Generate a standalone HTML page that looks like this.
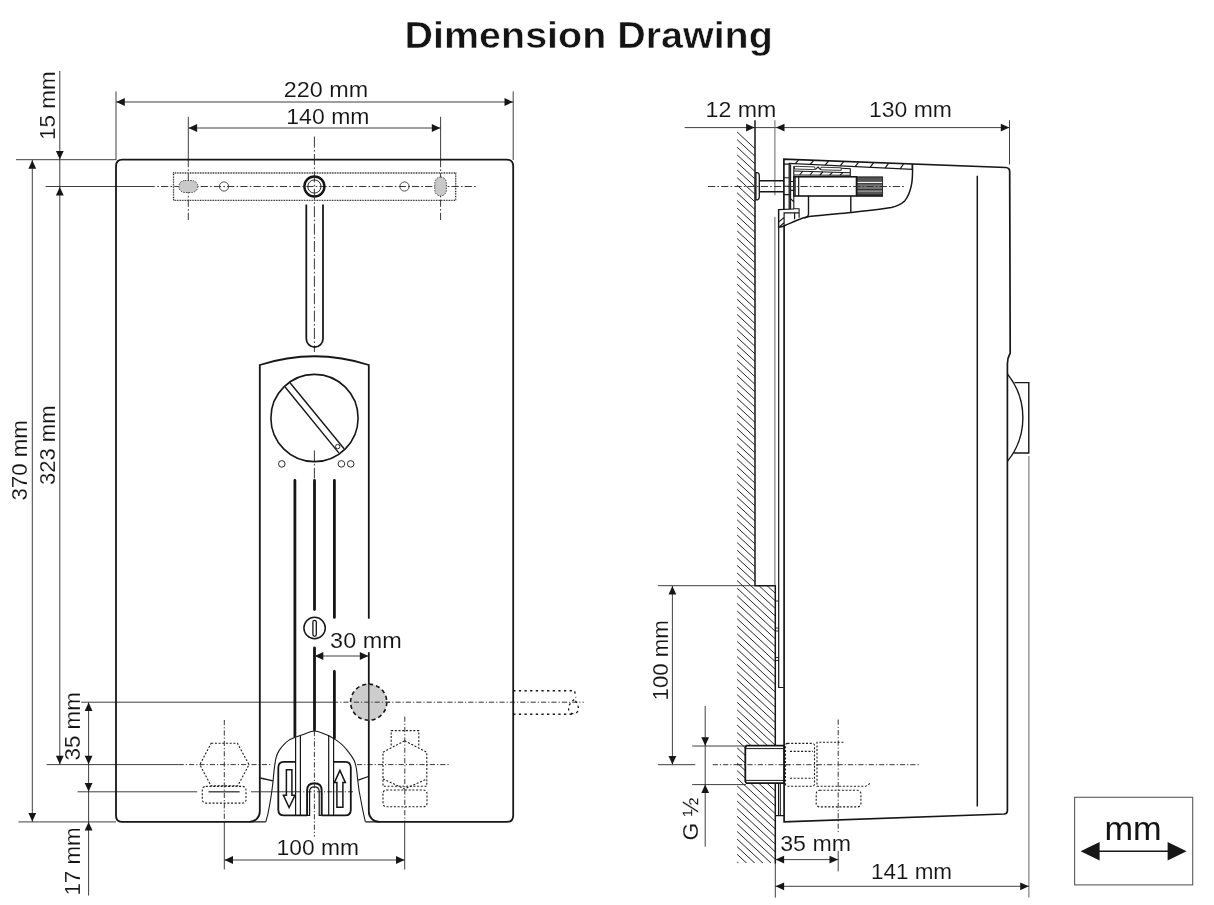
<!DOCTYPE html>
<html><head><meta charset="utf-8"><title>Dimension Drawing</title>
<style>
html,body{margin:0;padding:0;background:#fff;}
body{width:1214px;height:905px;overflow:hidden;font-family:"Liberation Sans",sans-serif;}
svg{display:block;filter:grayscale(1);}
svg text{font-family:"Liberation Sans",sans-serif;fill:#141414;}
</style></head><body>
<svg width="1214" height="905" viewBox="0 0 1214 905">
<rect width="1214" height="905" fill="#fff"/>

<text x="404.6" y="47.5" font-size="37.2" font-weight="bold" stroke="#fff" stroke-width="0.5" stroke-linejoin="round" textLength="368.2" lengthAdjust="spacingAndGlyphs">Dimension Drawing</text>
<g id="front" fill="none" stroke-linecap="butt">
<line x1="16" y1="159.7" x2="116" y2="159.7" stroke="#2a2a2a" stroke-width="0.9" />
<line x1="45.7" y1="186.5" x2="154.7" y2="186.5" stroke="#2a2a2a" stroke-width="0.9" />
<line x1="157.3" y1="186.5" x2="477.4" y2="186.5" stroke="#2e2e2e" stroke-width="0.95" stroke-dasharray="1.6 2.2 7.2 2.2"/>
<line x1="59.8" y1="71" x2="59.8" y2="764.3" stroke="#2a2a2a" stroke-width="0.9" />
<line x1="32.3" y1="160" x2="32.3" y2="821.9" stroke="#2a2a2a" stroke-width="0.9" />
<line x1="18.4" y1="821.9" x2="116" y2="821.9" stroke="#2a2a2a" stroke-width="0.9" />
<line x1="116" y1="91.4" x2="116" y2="160" stroke="#2a2a2a" stroke-width="0.9" />
<line x1="513.2" y1="91.4" x2="513.2" y2="160" stroke="#2a2a2a" stroke-width="0.9" />
<line x1="116" y1="102" x2="513.2" y2="102" stroke="#2a2a2a" stroke-width="0.9" />
<line x1="188.3" y1="116.8" x2="188.3" y2="160" stroke="#2a2a2a" stroke-width="0.9" />
<line x1="188.3" y1="160" x2="188.3" y2="222" stroke="#2e2e2e" stroke-width="0.95" stroke-dasharray="7.2 2.2 1.6 2.2"/>
<line x1="440.6" y1="116.8" x2="440.6" y2="160" stroke="#2a2a2a" stroke-width="0.9" />
<line x1="440.6" y1="160" x2="440.6" y2="222" stroke="#2e2e2e" stroke-width="0.95" stroke-dasharray="7.2 2.2 1.6 2.2"/>
<line x1="188.3" y1="128" x2="440.6" y2="128" stroke="#2a2a2a" stroke-width="0.9" />
<polygon points="116.3,102.0 124.8,98.1 124.8,105.9" fill="#161616"/>
<polygon points="513.0,102.0 504.5,98.1 504.5,105.9" fill="#161616"/>
<polygon points="188.6,128.0 197.1,124.1 197.1,131.9" fill="#161616"/>
<polygon points="440.3,128.0 431.8,124.1 431.8,131.9" fill="#161616"/>
<polygon points="59.8,159.4 55.9,150.9 63.7,150.9" fill="#161616"/>
<polygon points="59.8,186.9 55.9,195.4 63.7,195.4" fill="#161616"/>
<polygon points="32.3,160.2 28.4,168.7 36.2,168.7" fill="#161616"/>
<polygon points="32.3,821.6 28.4,813.1 36.2,813.1" fill="#161616"/>
<polygon points="59.8,764.2 55.9,755.7 63.7,755.7" fill="#161616"/>
<line x1="88.6" y1="702.3" x2="88.6" y2="895.6" stroke="#2a2a2a" stroke-width="0.9" />
<line x1="81.2" y1="702.2" x2="333" y2="702.2" stroke="#2a2a2a" stroke-width="0.9" />
<line x1="333" y1="702.2" x2="583.8" y2="702.2" stroke="#2e2e2e" stroke-width="0.95" stroke-dasharray="5.2 2 1.2 2"/>
<line x1="46.6" y1="764.6" x2="178.6" y2="764.6" stroke="#2a2a2a" stroke-width="0.9" />
<line x1="178.6" y1="764.6" x2="272" y2="764.6" stroke="#2e2e2e" stroke-width="0.95" stroke-dasharray="5.2 2 1.2 2"/>
<line x1="357" y1="764.6" x2="449.5" y2="764.6" stroke="#2e2e2e" stroke-width="0.95" stroke-dasharray="5.2 2 1.2 2"/>
<line x1="77.5" y1="791.8" x2="197.2" y2="791.8" stroke="#2a2a2a" stroke-width="0.9" />
<polygon points="88.6,702.5 84.7,711.0 92.5,711.0" fill="#161616"/>
<polygon points="88.6,764.3 84.7,755.8 92.5,755.8" fill="#161616"/>
<polygon points="88.6,791.6 84.7,783.1 92.5,783.1" fill="#161616"/>
<polygon points="88.6,822.1 84.7,830.6 92.5,830.6" fill="#161616"/>
<line x1="224.3" y1="822" x2="224.3" y2="869.5" stroke="#2a2a2a" stroke-width="0.9" />
<line x1="404.7" y1="822" x2="404.7" y2="869.5" stroke="#2a2a2a" stroke-width="0.9" />
<line x1="224.3" y1="860" x2="404.7" y2="860" stroke="#2a2a2a" stroke-width="0.9" />
<polygon points="224.5,860.0 233.0,856.1 233.0,863.9" fill="#161616"/>
<polygon points="404.5,860.0 396.0,856.1 396.0,863.9" fill="#161616"/>
<line x1="314.4" y1="656" x2="368.8" y2="656" stroke="#2a2a2a" stroke-width="0.9" />
<polygon points="314.8,656.0 323.3,652.0 323.3,660.0" fill="#161616"/>
<polygon points="368.3,656.0 359.8,652.0 359.8,660.0" fill="#161616"/>
<path d="M116 166.1 Q116 159.6 122.5 159.6 L506.7 159.6 Q513.2 159.6 513.2 166.1 L513.2 815.4 Q513.2 821.9 506.7 821.9 L379.2 821.9 A10.4 10.4 0 0 1 368.8 811.5 L368.8 365 Q314.5 347.5 259.8 365 L259.8 811.5 A10.4 10.4 0 0 1 249.4 821.9 L122.5 821.9 Q116 821.9 116 815.4 Z" stroke="#161616" stroke-width="1.8"/>
<path d="M249.4 821.9 L265.8 821.9 M365.4 821.9 L379.2 821.9" stroke="#161616" stroke-width="1.2"/>
<rect x="173.5" y="173" width="282.2" height="27.3" stroke="#222" stroke-width="1.3" stroke-dasharray="0.9 0.75"/>
<rect x="178.8" y="180.5" width="19" height="12" rx="6" fill="#c9c9cd" stroke="#333" stroke-width="0.9" stroke-dasharray="1.5 1.2"/>
<rect x="434.8" y="177.1" width="11.6" height="18.8" rx="5.8" fill="#c9c9cd" stroke="#333" stroke-width="0.9" stroke-dasharray="1.5 1.2"/>
<circle cx="224" cy="186.5" r="4.6" stroke="#333" stroke-width="0.85"/>
<circle cx="404.5" cy="186.5" r="4.6" stroke="#333" stroke-width="0.85"/>
<circle cx="314.4" cy="186.5" r="10" stroke="#161616" stroke-width="2.4"/>
<circle cx="314.4" cy="186.5" r="6.6" stroke="#161616" stroke-width="0.9"/>
<line x1="314.4" y1="136.6" x2="314.4" y2="352" stroke="#2e2e2e" stroke-width="0.95" stroke-dasharray="11 2.4 1.6 2.4"/>
<line x1="314.4" y1="450.4" x2="314.4" y2="478.5" stroke="#2e2e2e" stroke-width="0.95" stroke-dasharray="11 2.4 1.6 2.4"/>
<path d="M306.3 204.5 L306.3 338.8 A8.35 8.35 0 0 0 323 338.8 L323 204.5" stroke="#161616" stroke-width="1.75"/>
<circle cx="314.5" cy="418" r="43.6" stroke="#161616" stroke-width="1.6"/>
<path d="M285.1 387 L338.8 452.9 M290.2 383 L344.1 448.7" stroke="#161616" stroke-width="1.4"/>
<circle cx="337.7" cy="446.6" r="2.2" stroke="#161616" stroke-width="0.9"/>
<circle cx="281.8" cy="463.9" r="3.3" stroke="#161616" stroke-width="0.9"/>
<circle cx="341.4" cy="463.9" r="3.3" stroke="#161616" stroke-width="0.9"/>
<circle cx="350.7" cy="463.9" r="3.3" stroke="#161616" stroke-width="0.9"/>
<path d="M294.9 480.5 L294.9 737 M334.4 480.5 L334.4 617.4 M334.4 671.4 L334.4 738" stroke="#161616" stroke-width="2.8" stroke-linecap="round"/>
<path d="M314.5 480.5 L314.5 609.6 M314.5 648 L314.5 730" stroke="#161616" stroke-width="2.8" stroke-linecap="round"/>
<circle cx="314.6" cy="628" r="10.7" stroke="#161616" stroke-width="1.5" fill="#fff"/>
<rect x="312.9" y="620.3" width="3.4" height="16" rx="1.7" stroke="#161616" stroke-width="1.3"/>
<circle cx="368.7" cy="702.2" r="18.1" fill="#cdcdd1" stroke="#161616" stroke-width="1.6" stroke-dasharray="4 3.1"/>
<line x1="368.8" y1="684" x2="368.8" y2="721" stroke="#3a3a3a" stroke-width="1.5" />
<line x1="353.8" y1="702.2" x2="390" y2="702.2" stroke="#2e2e2e" stroke-width="0.95" stroke-dasharray="5.2 2 1.2 2"/>
<path d="M513.2 690.7 L574.5 690.7 L575.9 697.5 M513.2 714.3 L572 714.3" stroke="#161616" stroke-width="1.4" stroke-dasharray="2.3 3.34"/>
<path d="M574.2 699.5 C571 702 568.6 705 568.6 708.8 A4.9 4.9 0 0 0 578.4 708.8 C578.4 705 576.5 702 574.2 699.5 Z" stroke="#161616" stroke-width="1.3" stroke-dasharray="2.3 3.1"/>
<g stroke="#1c1c1c" stroke-width="1.1" stroke-dasharray="2 1.7">
<path d="M211.2 743.2 L237.4 743.2 L249 764.6 L237.8 785.8 L211 785.8 L199.9 764.6 Z"/>
<rect x="202.3" y="786.4" width="43.7" height="16.7" rx="3.5"/>
<path d="M391.2 745.5 L391.2 730.6 L418.8 730.6 L418.8 745.5"/>
<path d="M404.7 740.8 L426.8 752.2 L426.8 786.3 L383 786.3 L383 752.2 Z"/>
<path d="M383 779 L404.7 788.9 L426.8 779"/>
<rect x="383" y="790" width="44" height="16.8" rx="3.5"/>
</g>
<line x1="208.5" y1="791.8" x2="239.6" y2="791.8" stroke="#333" stroke-width="1.3" />
<line x1="224.3" y1="720" x2="224.3" y2="822" stroke="#2e2e2e" stroke-width="0.95" stroke-dasharray="5.2 2 1.2 2"/>
<line x1="404.8" y1="716.5" x2="404.8" y2="822" stroke="#2e2e2e" stroke-width="0.95" stroke-dasharray="5.2 2 1.2 2"/>
<path d="M265.8 821.9 C268 815 269 809 269.6 805 C271.5 795 272.4 787 273.1 780.7 C274 770 274.8 763 276.1 757.7 C277 754 278 752.3 279.2 750.4 C282.5 745.5 286 742 290.1 739.4 C293.5 737.6 297 736.3 301 735.2 C306 733.8 310.5 731 314.4 731 C318.5 731 323 733.8 327.8 735.2 C330.5 736.3 332.5 737.6 335 739.4 C340 742.5 344 746 347.2 750.4 C350.5 754.5 352.8 757.5 354.5 761.3 C356.3 766 357 771 357.5 778.3 C358.4 788 360 797 361.8 805 C362.8 811 364 816 365.4 821.9" stroke="#161616" stroke-width="1.1" fill="#fff"/>
<path d="M260.3 778 L273 780.8 M368.4 776.5 L358.2 780.2" stroke="#161616" stroke-width="1.3"/>
<line x1="251" y1="791.8" x2="296" y2="791.8" stroke="#2a2a2a" stroke-width="0.9" />
<line x1="296" y1="791.8" x2="353" y2="791.8" stroke="#2e2e2e" stroke-width="0.95" stroke-dasharray="5.2 2 1.2 2"/>
<path d="M295.6 737.5 L295.6 815.4 M300.4 735 L300.4 815.4 M328.7 735 L328.7 815.4 M333.6 737.5 L333.6 815.4" stroke="#161616" stroke-width="1.2"/>
<path d="M295.6 761.9 L284 761.9 Q278.3 761.9 278.3 767.6 L278.3 809.7 Q278.3 815.4 284 815.4 L307.1 815.4 M321.7 815.4 L345.1 815.4 Q350.8 815.4 350.8 809.7 L350.8 767.6 Q350.8 761.9 345.1 761.9 L333.6 761.9" stroke="#161616" stroke-width="1.8"/>
<path d="M307.1 815.4 L307.1 790.5 Q307.1 783.2 314.4 783.2 Q321.7 783.2 321.7 790.5 L321.7 815.4" stroke="#161616" stroke-width="1.9"/>
<path d="M307.1 815.4 L309.6 815.4 L309.6 791.6 Q309.6 786.8 314.4 786.8 Q319.2 786.8 319.2 791.6 L319.2 815.4 L321.7 815.4" stroke="#161616" stroke-width="1.2"/>
<path d="M286.4 769.8 L291.9 769.8 L291.9 795.3 L295 795.3 L289.1 807.5 L283.4 795.3 L286.4 795.3 Z" stroke="#161616" stroke-width="1.5" stroke-linejoin="miter"/>
<path d="M339.9 770.4 L345.4 782.6 L342.9 782.6 L342.9 807.2 L336.9 807.2 L336.9 782.6 L334.4 782.6 Z" stroke="#161616" stroke-width="1.5" stroke-linejoin="miter"/>
<line x1="314.4" y1="731" x2="314.4" y2="836.7" stroke="#2e2e2e" stroke-width="0.95" stroke-dasharray="5.2 2 1.2 2"/>
</g>
<rect x="366" y="618.7" width="6" height="33.5" fill="#fff"/>
<g id="side" fill="none">
<clipPath id="wc"><path d="M736.5 131.6 L755 131.6 L755 585.5 L775.3 585.5 L775.3 863 L736.5 863 Z"/></clipPath>
<g clip-path="url(#wc)" stroke="#262626" stroke-width="1.0">
<line x1="737.1" y1="132.00" x2="777.1" y2="169.20"/>
<line x1="737.1" y1="139.60" x2="777.1" y2="176.80"/>
<line x1="737.1" y1="147.21" x2="777.1" y2="184.41"/>
<line x1="737.1" y1="154.81" x2="777.1" y2="192.01"/>
<line x1="737.1" y1="162.41" x2="777.1" y2="199.61"/>
<line x1="737.1" y1="170.02" x2="777.1" y2="207.22"/>
<line x1="737.1" y1="177.62" x2="777.1" y2="214.82"/>
<line x1="737.1" y1="185.22" x2="777.1" y2="222.42"/>
<line x1="737.1" y1="192.82" x2="777.1" y2="230.02"/>
<line x1="737.1" y1="200.43" x2="777.1" y2="237.63"/>
<line x1="737.1" y1="208.03" x2="777.1" y2="245.23"/>
<line x1="737.1" y1="215.63" x2="777.1" y2="252.83"/>
<line x1="737.1" y1="223.24" x2="777.1" y2="260.44"/>
<line x1="737.1" y1="230.84" x2="777.1" y2="268.04"/>
<line x1="737.1" y1="238.44" x2="777.1" y2="275.64"/>
<line x1="737.1" y1="246.05" x2="777.1" y2="283.25"/>
<line x1="737.1" y1="253.65" x2="777.1" y2="290.85"/>
<line x1="737.1" y1="261.25" x2="777.1" y2="298.45"/>
<line x1="737.1" y1="268.85" x2="777.1" y2="306.05"/>
<line x1="737.1" y1="276.46" x2="777.1" y2="313.66"/>
<line x1="737.1" y1="284.06" x2="777.1" y2="321.26"/>
<line x1="737.1" y1="291.66" x2="777.1" y2="328.86"/>
<line x1="737.1" y1="299.27" x2="777.1" y2="336.47"/>
<line x1="737.1" y1="306.87" x2="777.1" y2="344.07"/>
<line x1="737.1" y1="314.47" x2="777.1" y2="351.67"/>
<line x1="737.1" y1="322.08" x2="777.1" y2="359.28"/>
<line x1="737.1" y1="329.68" x2="777.1" y2="366.88"/>
<line x1="737.1" y1="337.28" x2="777.1" y2="374.48"/>
<line x1="737.1" y1="344.88" x2="777.1" y2="382.08"/>
<line x1="737.1" y1="352.49" x2="777.1" y2="389.69"/>
<line x1="737.1" y1="360.09" x2="777.1" y2="397.29"/>
<line x1="737.1" y1="367.69" x2="777.1" y2="404.89"/>
<line x1="737.1" y1="375.30" x2="777.1" y2="412.50"/>
<line x1="737.1" y1="382.90" x2="777.1" y2="420.10"/>
<line x1="737.1" y1="390.50" x2="777.1" y2="427.70"/>
<line x1="737.1" y1="398.11" x2="777.1" y2="435.31"/>
<line x1="737.1" y1="405.71" x2="777.1" y2="442.91"/>
<line x1="737.1" y1="413.31" x2="777.1" y2="450.51"/>
<line x1="737.1" y1="420.91" x2="777.1" y2="458.11"/>
<line x1="737.1" y1="428.52" x2="777.1" y2="465.72"/>
<line x1="737.1" y1="436.12" x2="777.1" y2="473.32"/>
<line x1="737.1" y1="443.72" x2="777.1" y2="480.92"/>
<line x1="737.1" y1="451.33" x2="777.1" y2="488.53"/>
<line x1="737.1" y1="458.93" x2="777.1" y2="496.13"/>
<line x1="737.1" y1="466.53" x2="777.1" y2="503.73"/>
<line x1="737.1" y1="474.14" x2="777.1" y2="511.34"/>
<line x1="737.1" y1="481.74" x2="777.1" y2="518.94"/>
<line x1="737.1" y1="489.34" x2="777.1" y2="526.54"/>
<line x1="737.1" y1="496.94" x2="777.1" y2="534.14"/>
<line x1="737.1" y1="504.55" x2="777.1" y2="541.75"/>
<line x1="737.1" y1="512.15" x2="777.1" y2="549.35"/>
<line x1="737.1" y1="519.75" x2="777.1" y2="556.95"/>
<line x1="737.1" y1="527.36" x2="777.1" y2="564.56"/>
<line x1="737.1" y1="534.96" x2="777.1" y2="572.16"/>
<line x1="737.1" y1="542.56" x2="777.1" y2="579.76"/>
<line x1="737.1" y1="550.17" x2="777.1" y2="587.37"/>
<line x1="737.1" y1="557.77" x2="777.1" y2="594.97"/>
<line x1="737.1" y1="565.37" x2="777.1" y2="602.57"/>
<line x1="737.1" y1="572.97" x2="777.1" y2="610.17"/>
<line x1="737.1" y1="580.58" x2="777.1" y2="617.78"/>
<line x1="737.1" y1="588.18" x2="777.1" y2="625.38"/>
<line x1="737.1" y1="595.78" x2="777.1" y2="632.98"/>
<line x1="737.1" y1="603.39" x2="777.1" y2="640.59"/>
<line x1="737.1" y1="610.99" x2="777.1" y2="648.19"/>
<line x1="737.1" y1="618.59" x2="777.1" y2="655.79"/>
<line x1="737.1" y1="626.19" x2="777.1" y2="663.39"/>
<line x1="737.1" y1="633.80" x2="777.1" y2="671.00"/>
<line x1="737.1" y1="641.40" x2="777.1" y2="678.60"/>
<line x1="737.1" y1="649.00" x2="777.1" y2="686.20"/>
<line x1="737.1" y1="656.61" x2="777.1" y2="693.81"/>
<line x1="737.1" y1="664.21" x2="777.1" y2="701.41"/>
<line x1="737.1" y1="671.81" x2="777.1" y2="709.01"/>
<line x1="737.1" y1="679.42" x2="777.1" y2="716.62"/>
<line x1="737.1" y1="687.02" x2="777.1" y2="724.22"/>
<line x1="737.1" y1="694.62" x2="777.1" y2="731.82"/>
<line x1="737.1" y1="702.22" x2="777.1" y2="739.42"/>
<line x1="737.1" y1="709.83" x2="777.1" y2="747.03"/>
<line x1="737.1" y1="717.43" x2="777.1" y2="754.63"/>
<line x1="737.1" y1="725.03" x2="777.1" y2="762.23"/>
<line x1="737.1" y1="732.64" x2="777.1" y2="769.84"/>
<line x1="737.1" y1="740.24" x2="777.1" y2="777.44"/>
<line x1="737.1" y1="747.84" x2="777.1" y2="785.04"/>
<line x1="737.1" y1="755.45" x2="777.1" y2="792.65"/>
<line x1="737.1" y1="763.05" x2="777.1" y2="800.25"/>
<line x1="737.1" y1="770.65" x2="777.1" y2="807.85"/>
<line x1="737.1" y1="778.25" x2="777.1" y2="815.45"/>
<line x1="737.1" y1="785.86" x2="777.1" y2="823.06"/>
<line x1="737.1" y1="793.46" x2="777.1" y2="830.66"/>
<line x1="737.1" y1="801.06" x2="777.1" y2="838.26"/>
<line x1="737.1" y1="808.67" x2="777.1" y2="845.87"/>
<line x1="737.1" y1="816.27" x2="777.1" y2="853.47"/>
<line x1="737.1" y1="823.87" x2="777.1" y2="861.07"/>
<line x1="737.1" y1="831.48" x2="777.1" y2="868.68"/>
<line x1="737.1" y1="839.08" x2="777.1" y2="876.28"/>
<line x1="737.1" y1="846.68" x2="777.1" y2="883.88"/>
<line x1="737.1" y1="854.28" x2="777.1" y2="891.48"/>
<line x1="737.1" y1="861.89" x2="777.1" y2="899.09"/>
<line x1="737.1" y1="869.49" x2="777.1" y2="906.69"/>
</g>
<path d="M755 120.2 L755 585.7 L775.3 585.7 L775.3 863.4" stroke="#161616" stroke-width="1.5"/>
<line x1="684.7" y1="127.6" x2="775" y2="127.6" stroke="#2a2a2a" stroke-width="0.9" />
<polygon points="754.6,127.6 746.1,123.7 746.1,131.5" fill="#161616"/>
<line x1="775" y1="127.6" x2="1009.5" y2="127.6" stroke="#2a2a2a" stroke-width="0.9" />
<polygon points="776.0,127.6 784.5,123.7 784.5,131.5" fill="#161616"/>
<polygon points="1009.3,127.6 1000.8,123.7 1000.8,131.5" fill="#161616"/>
<line x1="774.9" y1="120.2" x2="774.9" y2="195.2" stroke="#555" stroke-width="0.9" />
<line x1="774.9" y1="216.8" x2="774.9" y2="585.5" stroke="#555" stroke-width="0.9" />
<line x1="1009.5" y1="120.2" x2="1009.5" y2="164.5" stroke="#2a2a2a" stroke-width="0.9" />
<line x1="657.9" y1="585.7" x2="755" y2="585.7" stroke="#2a2a2a" stroke-width="0.9" />
<line x1="672.4" y1="585.7" x2="672.4" y2="764.7" stroke="#2a2a2a" stroke-width="0.9" />
<polygon points="672.4,586.0 668.5,594.5 676.3,594.5" fill="#161616"/>
<polygon points="672.4,764.4 668.5,755.9 676.3,755.9" fill="#161616"/>
<line x1="657.9" y1="764.7" x2="695.3" y2="764.7" stroke="#2a2a2a" stroke-width="0.9" />
<line x1="712.7" y1="764.7" x2="920.3" y2="764.7" stroke="#2e2e2e" stroke-width="0.95" stroke-dasharray="5.2 2 1.2 2"/>
<line x1="705.2" y1="706" x2="705.2" y2="846.7" stroke="#2a2a2a" stroke-width="0.9" />
<polygon points="705.2,745.8 701.3,737.3 709.1,737.3" fill="#161616"/>
<polygon points="705.2,784.6 701.3,793.1 709.1,793.1" fill="#161616"/>
<line x1="692.2" y1="746" x2="746" y2="746" stroke="#2a2a2a" stroke-width="0.9" />
<line x1="692.2" y1="784.6" x2="746" y2="784.6" stroke="#2a2a2a" stroke-width="0.9" />
<line x1="775.3" y1="863" x2="775.3" y2="897.6" stroke="#2a2a2a" stroke-width="0.9" />
<line x1="1028.9" y1="456" x2="1028.9" y2="897.6" stroke="#555" stroke-width="0.9" />
<line x1="775.3" y1="859.6" x2="838.2" y2="859.6" stroke="#2a2a2a" stroke-width="0.9" />
<polygon points="775.6,859.6 784.1,855.7 784.1,863.5" fill="#161616"/>
<polygon points="838.0,859.6 829.5,855.7 829.5,863.5" fill="#161616"/>
<line x1="838.2" y1="850.9" x2="838.2" y2="871.4" stroke="#2a2a2a" stroke-width="0.9" />
<line x1="838.2" y1="719.6" x2="838.2" y2="832" stroke="#2e2e2e" stroke-width="0.95" stroke-dasharray="5.2 2 1.2 2"/>
<line x1="775.3" y1="886.3" x2="1028.9" y2="886.3" stroke="#2a2a2a" stroke-width="0.9" />
<polygon points="775.6,886.3 784.1,882.4 784.1,890.2" fill="#161616"/>
<polygon points="1028.7,886.3 1020.2,882.4 1020.2,890.2" fill="#161616"/>
<path d="M783.9 209.6 L783.9 159.2 L1005.8 167.5 Q1009.6 167.7 1009.7 171.6 L1010.2 353 Q1007.4 358 1007.4 364 L1007.4 810.5 Q1007.4 813.8 1004 814 L784.1 821.9 L784.1 226" stroke="#161616" stroke-width="1.7"/>
<path d="M977.3 175.8 L977.3 806.6" stroke="#161616" stroke-width="1.5"/>
<path d="M1007.4 374 A69.4 69.4 0 0 1 1007.4 461.4 M1014.5 382.6 L1028.8 382.6 L1028.8 453 L1014.2 453" stroke="#161616" stroke-width="1.4"/>
<path d="M778.7 210 L778.7 687.5 L783.7 687.5" stroke="#161616" stroke-width="1.2"/>
<path d="M775.3 601 L778.7 601 M775.3 628 L778.7 628 M775.3 631 L778.7 631 M775.3 657.5 L778.7 657.5 M775.3 660.5 L778.7 660.5" stroke="#161616" stroke-width="0.9"/>
<path d="M778.5 783.7 L778.5 815.4 M780.3 783.7 L780.3 815.4 M775.3 815.6 L784 815.6" stroke="#161616" stroke-width="1.1"/>
<path d="M746.6 745.7 L784 745.7 L784 783.2 L746.6 783.2 L745.3 781.5 L745.3 747.4 Z" fill="#fff" stroke="#161616" stroke-width="1.8"/>
<path d="M746 748.6 L784 748.6 M746 780.4 L784 780.4" stroke="#161616" stroke-width="1"/>
<line x1="737" y1="764.7" x2="790" y2="764.7" stroke="#2e2e2e" stroke-width="0.95" stroke-dasharray="5.2 2 1.2 2"/>
<g stroke="#1c1c1c" stroke-width="1.1" stroke-dasharray="2 1.7">
<rect x="785.5" y="743.4" width="29" height="42.8" rx="2"/>
<path d="M790 751.4 L813 751.4 M790 778.2 L813 778.2"/>
<path d="M843.5 742.3 L817 742.3 L817 786.2 L865.9 786.2 L870 783.5"/>
<rect x="816.2" y="790.3" width="44.7" height="16.6" rx="3.5"/>
</g>
<path d="M789.2 209.3 L789.2 163.4 L912.3 169.3 L912.3 164.0" stroke="#161616" stroke-width="1.3"/>
<line x1="798.5" y1="160.1" x2="795.1" y2="163.8" stroke="#161616" stroke-width="1.2"/>
<line x1="813.5" y1="160.6" x2="810.1" y2="164.5" stroke="#161616" stroke-width="1.2"/>
<line x1="828.5" y1="161.2" x2="825.1" y2="165.2" stroke="#161616" stroke-width="1.2"/>
<line x1="843.5" y1="161.8" x2="840.1" y2="165.9" stroke="#161616" stroke-width="1.2"/>
<line x1="858.5" y1="162.3" x2="855.1" y2="166.6" stroke="#161616" stroke-width="1.2"/>
<line x1="873.5" y1="162.9" x2="870.1" y2="167.4" stroke="#161616" stroke-width="1.2"/>
<line x1="888.5" y1="163.4" x2="885.1" y2="168.1" stroke="#161616" stroke-width="1.2"/>
<line x1="903.5" y1="164.0" x2="900.1" y2="168.8" stroke="#161616" stroke-width="1.2"/>
<path d="M783.9 164.1 L789.2 164.1 M783.9 177.7 L789.2 177.7 M783.9 186.2 L789.2 186.2 M783.9 194.6 L789.2 194.6" stroke="#161616" stroke-width="1.1"/>
<path d="M790.6 164.5 L790.6 209 M793.8 166 L793.8 208.7 L799.1 208.7 L799.1 217.8 M790.6 181.5 L793.8 181.5 M790.6 190.4 L793.8 190.4 M790.6 198.6 L793.8 201.8" stroke="#161616" stroke-width="1.1"/>
<path d="M794.5 166.3 L814.6 166.9 Q815.4 168.3 814.6 169.6 L794.5 169 Z M821 167.2 L841.2 167.8 L841.2 170.4 L821 169.8 Q820.2 168.5 821 167.2 Z" stroke="#161616" stroke-width="0.85"/>
<path d="M815.2 169.6 L818 167 L820.8 169.8 M841.2 168.3 L850.3 168.8 L850.3 176 M794 171 L850.3 172.7 M794 175 L850.3 175.2" stroke="#161616" stroke-width="1.1"/>
<line x1="802.6" y1="171.4" x2="799.6" y2="175" stroke="#161616" stroke-width="1.1"/>
<line x1="812.9" y1="171.7" x2="809.9" y2="175" stroke="#161616" stroke-width="1.1"/>
<line x1="822.8000000000001" y1="172.0" x2="819.8000000000001" y2="175" stroke="#161616" stroke-width="1.1"/>
<line x1="832.6" y1="172.3" x2="829.6" y2="175" stroke="#161616" stroke-width="1.1"/>
<line x1="843.0" y1="172.6" x2="840.0" y2="175" stroke="#161616" stroke-width="1.1"/>
<path d="M912.5 164.0 C912.8 175 912.5 181 911.2 186.1 C909.8 192.5 908 197 904.6 201 C901 204.5 897 206.3 891.4 207.5 C880 209.5 866 210.8 851.1 212.5 C836 214 822 215 809.1 216.6 C804 217.5 800 219 795.9 220.7 C791 222.8 787.5 224.5 784.4 225.7 C782.5 226.5 781 227 779.4 227.3" stroke="#161616" stroke-width="1.5"/>
<rect x="794" y="176.8" width="62.5" height="19.2" stroke="#161616" stroke-width="1.6" fill="#fff"/>
<line x1="795.3" y1="176.8" x2="795.3" y2="196" stroke="#161616" stroke-width="0.9" />
<line x1="798.7" y1="176.8" x2="798.7" y2="196" stroke="#161616" stroke-width="1.2" />
<rect x="857.2" y="176.9" width="25.4" height="19.4" fill="#555" stroke="#161616" stroke-width="0.9"/>
<rect x="857.7" y="181.9" width="24.4" height="1.2" fill="#f4f4f4"/>
<rect x="857.7" y="183.4" width="24.4" height="0.9" fill="#2a2a2a"/>
<rect x="857.7" y="184.4" width="24.4" height="4.7" fill="#757575"/>
<rect x="857.7" y="189.2" width="24.4" height="0.9" fill="#2a2a2a"/>
<rect x="857.7" y="190.6" width="24.4" height="1" fill="#b0b0b0"/>
<rect x="857.7" y="194.4" width="24.4" height="1.6" fill="#222"/>
<path d="M808.5 196 L808.5 214 Q808.3 217 804.5 218 M850.8 196 L850.8 212.3" stroke="#161616" stroke-width="1.4"/>
<path d="M778.5 227.5 L778.5 209.6 L794 209 M784.1 226 L784.1 212.9 L799.1 212.9 M794.6 212.9 L794.6 219.3 M779.2 221.6 L783.8 217.6 M779.2 227.2 L784 222.6" stroke="#161616" stroke-width="1.2"/>
<path d="M755.9 172.6 L757.4 172.6 Q759.3 173 759.3 176 L759.3 196.5 Q759.3 199.5 757.4 199.9 L755.9 199.9 Z" fill="#fff" stroke="#161616" stroke-width="1.3"/>
<path d="M759.6 180.7 L783.7 180.7 M759.6 191.8 L783.7 191.8" stroke="#161616" stroke-width="1.5"/>
<line x1="708" y1="186.5" x2="906" y2="186.5" stroke="#2e2e2e" stroke-width="0.95" stroke-dasharray="7.2 2.2 1.6 2.2"/>
</g>
<text x="283.81" y="96.9" font-size="22.4" font-weight="normal" stroke="#fff" stroke-width="0.12" textLength="84.38" lengthAdjust="spacingAndGlyphs">220 mm</text>
<text x="286.32" y="123.7" font-size="22.4" font-weight="normal" stroke="#fff" stroke-width="0.12" textLength="83.2" lengthAdjust="spacingAndGlyphs">140 mm</text>
<text x="330.12" y="647.9" font-size="22.4" font-weight="normal" stroke="#fff" stroke-width="0.12" textLength="71.57" lengthAdjust="spacingAndGlyphs">30 mm</text>
<text x="276.62" y="855.1" font-size="22.4" font-weight="normal" stroke="#fff" stroke-width="0.12" textLength="82.38" lengthAdjust="spacingAndGlyphs">100 mm</text>
<text x="705.53" y="117.4" font-size="22.4" font-weight="normal" stroke="#fff" stroke-width="0.12" textLength="70.78" lengthAdjust="spacingAndGlyphs">12 mm</text>
<text x="869.12" y="117.4" font-size="22.4" font-weight="normal" stroke="#fff" stroke-width="0.12" textLength="82.77" lengthAdjust="spacingAndGlyphs">130 mm</text>
<text x="780.24" y="850.9" font-size="22.4" font-weight="normal" stroke="#fff" stroke-width="0.12" textLength="70.76" lengthAdjust="spacingAndGlyphs">35 mm</text>
<text x="870.91" y="879.3" font-size="22.4" font-weight="normal" stroke="#fff" stroke-width="0.12" textLength="81.17" lengthAdjust="spacingAndGlyphs">141 mm</text>
<text x="54.9" y="140.0" font-size="22.4" font-weight="normal" stroke="#fff" stroke-width="0.12" textLength="68.63" lengthAdjust="spacingAndGlyphs" transform="rotate(-90 54.9 140.0)">15 mm</text>
<text x="27.4" y="500.49" font-size="22.4" font-weight="normal" stroke="#fff" stroke-width="0.12" textLength="80.19" lengthAdjust="spacingAndGlyphs" transform="rotate(-90 27.4 500.49)">370 mm</text>
<text x="54.8" y="485.0" font-size="22.4" font-weight="normal" stroke="#fff" stroke-width="0.12" textLength="79.57" lengthAdjust="spacingAndGlyphs" transform="rotate(-90 54.8 485.0)">323 mm</text>
<text x="80.3" y="760.5" font-size="22.4" font-weight="normal" stroke="#fff" stroke-width="0.12" textLength="68.35" lengthAdjust="spacingAndGlyphs" transform="rotate(-90 80.3 760.5)">35 mm</text>
<text x="80.4" y="895.5" font-size="22.4" font-weight="normal" stroke="#fff" stroke-width="0.12" textLength="68.02" lengthAdjust="spacingAndGlyphs" transform="rotate(-90 80.4 895.5)">17 mm</text>
<text x="667.9" y="700.49" font-size="22.4" font-weight="normal" stroke="#fff" stroke-width="0.12" textLength="80.4" lengthAdjust="spacingAndGlyphs" transform="rotate(-90 667.9 700.49)">100 mm</text>
<text x="698.5" y="840.44" font-size="22.4" font-weight="normal" stroke="#fff" stroke-width="0.12" textLength="42.96" lengthAdjust="spacingAndGlyphs" transform="rotate(-90 698.5 840.44)">G ½</text>
<rect x="1074.6" y="797.3" width="118.1" height="87.6" fill="none" stroke="#5a5a5a" stroke-width="1.1"/>
<text x="1104.4" y="840.2" font-size="32.3" textLength="57.2" lengthAdjust="spacingAndGlyphs">mm</text>
<line x1="1095" y1="851.3" x2="1172" y2="851.3" stroke="#161616" stroke-width="1.6" />
<polygon points="1080.6,851.3 1099.6,842.1 1099.6,860.5" fill="#161616"/>
<polygon points="1186.6,851.3 1167.6,842.1 1167.6,860.5" fill="#161616"/>
</svg></body></html>
